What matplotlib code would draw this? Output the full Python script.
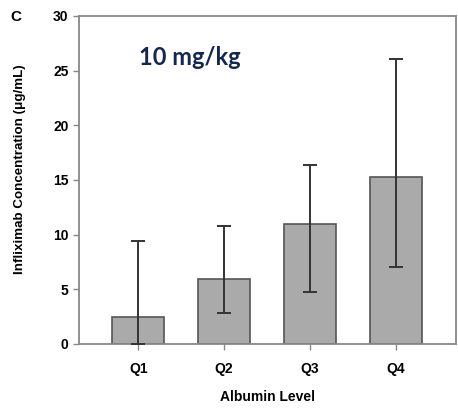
import numpy as np
import matplotlib.pyplot as plt

# values
quartiles = ["Q1", "Q2", "Q3", "Q4"]
mean_conc = [2.44, 5.95, 10.95, 15.27]
err_low = [0.0, 2.87, 4.75, 7.02]
err_high = [9.4, 10.75, 16.38, 26.05]
y_ticks = [0, 5, 10, 15, 20, 25, 30]

plt.rcParams["font.family"] = ["Liberation Sans", "DejaVu Sans"]
plt.rcParams["font.weight"] = "bold"

fig = plt.figure(figsize=(4.58, 4.09), dpi=100)
ax = fig.add_axes([0.1725, 0.159, 0.823, 0.802])

x = np.arange(1, len(quartiles) + 1)
mean_arr = np.array(mean_conc)
yerr = [mean_arr - np.array(err_low), np.array(err_high) - mean_arr]

ax.bar(x, mean_arr, width=0.6, color="#aaaaaa", edgecolor="#555555", linewidth=1.2, zorder=2)
ax.errorbar(x, mean_arr, yerr=yerr, fmt="none", ecolor="#333333", elinewidth=1.4,
            capsize=5, capthick=1.4, zorder=3)

ax.set_xlim(0.31, 4.70)
ax.set_ylim(0, 30)
ax.set_yticks(y_ticks)
ax.set_xticks(x)
ax.set_xticklabels(quartiles)

for sp in ax.spines.values():
    sp.set_color("#888888")
    sp.set_linewidth(1.3)

ax.tick_params(axis="both", colors="#888888", length=4, width=1, labelsize=10,
               labelcolor="black")
ax.tick_params(axis="x", pad=9)
for lab in ax.get_xticklabels() + ax.get_yticklabels():
    lab.set_fontweight("bold")

ax.set_xlabel("Albumin Level", fontsize=10, fontweight="bold", labelpad=10)
fig.text(20 / 458, 1 - 169 / 409, "Infliximab Concentration (\u03bcg/mL)", rotation=90,
         fontsize=9.6, fontweight="bold", ha="center", va="center")

ax.text(0.295, 0.872, "10 mg/kg", transform=ax.transAxes, ha="center", va="center",
        fontsize=17, fontweight="bold", color="#14284f", family=["Lato", "DejaVu Sans"])

fig.text(10 / 458, 1 - 17 / 409, "C", fontsize=11, fontweight="bold", va="center", ha="left")

fig.savefig("out.png", dpi=100)
